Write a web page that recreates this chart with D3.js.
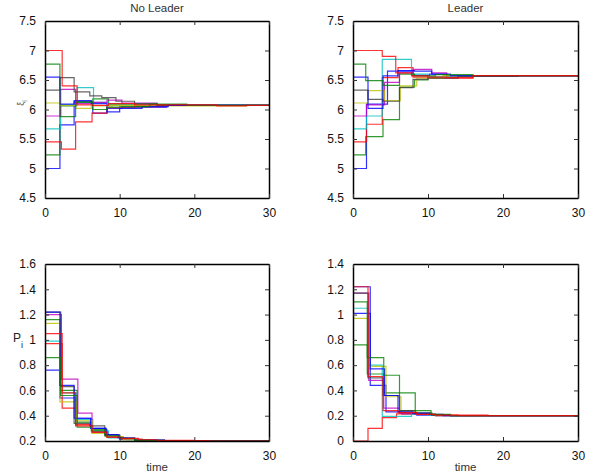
<!DOCTYPE html>
<html><head><meta charset="utf-8">
<script src="https://cdn.jsdelivr.net/npm/d3@7"></script>
<style>
body{margin:0;background:#fff;}
svg{display:block;font-family:"Liberation Sans",Arial,Helvetica,sans-serif;}
</style></head>
<body><svg id="c" width="595" height="474"></svg>
<script>
// agent colours (MATLAB-like colour order)
const agentColors = ["#0000ff","#008000","#ff0000","#00bfbf","#bf00bf","#bfbf00","#404040","#0000ff","#008000","#ff0000"];
const xTicks = [0,10,20,30];
const xiTicks = [4.5,5,5.5,6,6.5,7,7.5];
const pNoLeaderTicks = [0.2,0.4,0.6,0.8,1,1.2,1.4,1.6];
const pLeaderTicks = [0,0.2,0.4,0.6,0.8,1,1.2,1.4];
const titles = ["No Leader","Leader"];

// step series: [time, value] (value held until next time)
const xiNoLeader = [
 [[0,5.0],[2.0,5.74],[3.9,6.13],[6.4,5.94],[8.3,6.02],[10.3,6.04],[16.3,6.07]],
 [[0,5.23],[2.0,6.06],[4.2,6.14],[6.4,6.18],[8.5,6.08],[12,6.08],[19,6.07]],
 [[0,5.45],[2.2,5.33],[4.1,5.79],[6.3,5.94],[8.3,6.03],[12,6.05],[16,6.07]],
 [[0,5.67],[2.1,6.08],[4.3,6.37],[6.5,6.12],[8.5,6.10],[10.5,6.09],[14,6.08]],
 [[0,5.89],[2.1,6.34],[4.1,6.10],[6.3,6.12],[8.3,6.16],[10.3,6.11],[15,6.07]],
 [[0,6.11],[2.0,6.07],[4.1,6.02],[6.2,6.06],[9,6.07],[13,6.06],[27,6.07]],
 [[0,6.33],[2.0,6.54],[3.9,6.30],[6.0,6.23],[7.6,6.20],[9.5,6.14],[12,6.10],[15,6.07]],
 [[0,6.55],[2.0,6.09],[3.9,6.15],[6.2,6.10],[8.3,5.96],[10,6.02],[13,6.05],[16.5,6.07]],
 [[0,6.77],[2.0,5.88],[4.1,6.12],[6.4,6.00],[8.3,6.04],[10,6.05],[14,6.09],[19,6.07]],
 [[0,7.0],[2.3,6.40],[4.3,6.08],[6.3,6.07],[8.5,6.10],[12,6.08],[23,6.06],[27,6.07]]
];
const xiLeader = [
 [[0,5.0],[1.8,6.09],[4.6,6.65],[8.0,6.58],[10.2,6.60],[12.5,6.575]],
 [[0,5.23],[1.7,5.54],[4.0,5.83],[6.2,6.38],[8.2,6.50],[10,6.55],[14,6.575]],
 [[0,5.45],[1.8,5.75],[3.9,6.54],[6.0,6.71],[8.0,6.55],[10,6.53],[16,6.575]],
 [[0,5.67],[1.8,5.89],[3.9,6.85],[7.8,6.60],[10,6.55],[13,6.575]],
 [[0,5.89],[1.8,6.08],[4.2,6.46],[6.2,6.62],[8.0,6.68],[10.5,6.62],[12.5,6.575]],
 [[0,6.11],[2.0,6.32],[4.2,6.15],[6.3,6.40],[8.5,6.53],[12,6.575]],
 [[0,6.33],[2.0,6.17],[4.0,6.14],[6.2,6.37],[8.0,6.51],[10,6.53],[14,6.56],[22,6.575]],
 [[0,6.55],[2.0,6.02],[4.0,6.57],[6.0,6.66],[8.2,6.65],[10.5,6.60],[13,6.575]],
 [[0,6.77],[1.7,6.49],[4.0,6.41],[6.2,6.60],[8.2,6.57],[11,6.59],[16,6.575]],
 [[0,7.0],[3.9,6.90],[5.7,6.62],[7.8,6.57],[10,6.55],[12.5,6.54],[16,6.575]]
];
const pNoLeader = [
 [[0,0.76],[2.0,0.54],[4.1,0.38],[6.2,0.30],[8.1,0.24],[10.0,0.215],[12,0.205],[15,0.2]],
 [[0,1.16],[2.0,0.60],[4.3,0.35],[6.3,0.29],[8.3,0.23],[10.3,0.21],[13,0.202],[17,0.2]],
 [[0,0.97],[2.3,0.46],[4.1,0.33],[6.3,0.27],[8.3,0.23],[10.5,0.215],[13,0.205],[20,0.2]],
 [[0,0.99],[2.0,0.58],[4.2,0.37],[6.4,0.28],[8.5,0.225],[11,0.21],[14,0.2]],
 [[0,1.20],[2.2,0.69],[4.4,0.42],[6.3,0.27],[8.4,0.23],[10.3,0.215],[12,0.205],[16,0.2]],
 [[0,1.13],[2.0,0.51],[4.2,0.36],[6.3,0.26],[8.3,0.235],[10.5,0.21],[14,0.2]],
 [[0,1.22],[2.1,0.63],[3.9,0.34],[6.0,0.32],[8.0,0.25],[10.0,0.22],[12,0.205],[16,0.2]],
 [[0,1.22],[2.0,0.64],[3.9,0.38],[6.1,0.30],[8.2,0.25],[9.8,0.225],[12,0.208],[16,0.2]],
 [[0,0.86],[2.1,0.56],[4.3,0.31],[6.2,0.28],[8.0,0.24],[10,0.22],[12,0.205],[16,0.2]],
 [[0,1.05],[2.3,0.58],[4.1,0.32],[6.3,0.27],[8.3,0.23],[10,0.22],[12.5,0.21],[15,0.203],[22,0.2]]
];
const pLeader = [
 [[0,1.01],[2.3,0.44],[4.4,0.23],[6.5,0.215],[8.5,0.205],[11,0.2]],
 [[0,0.76],[1.9,0.53],[4.1,0.38],[6.2,0.24],[8.3,0.22],[10.5,0.205],[13,0.2]],
 [[0,0.0],[2.0,0.10],[3.9,0.185],[5.8,0.215],[8,0.21],[10.5,0.205],[18,0.2]],
 [[0,1.05],[2.0,0.60],[3.9,0.195],[7.8,0.21],[10,0.205],[13,0.2]],
 [[0,1.17],[2.1,0.48],[4.1,0.26],[6.2,0.22],[8.3,0.21],[11,0.2]],
 [[0,0.97],[2.0,0.59],[4.4,0.35],[6.4,0.23],[8.5,0.215],[11,0.2]],
 [[0,1.17],[2.0,0.50],[4.0,0.36],[6.2,0.24],[8.3,0.22],[10.5,0.205],[13,0.2]],
 [[0,1.22],[2.3,0.57],[4.2,0.36],[6.0,0.23],[8.0,0.22],[10.2,0.21],[12,0.2]],
 [[0,1.10],[1.9,0.66],[4.1,0.52],[6.2,0.38],[8.3,0.24],[10.4,0.21],[13,0.2]],
 [[0,1.22],[2.0,0.51],[4.0,0.24],[6.0,0.225],[8.5,0.21],[11,0.205],[14,0.2]]
];

const svg = d3.select("#c");
const fmt = v => String(+v.toFixed(2));

function panel(opt){
  const {x0,x1,y0,y1,data,yDomain,yTicks,title,xlabel} = opt;
  const x = d3.scaleLinear().domain([0,30]).range([x0,x1]);
  const y = d3.scaleLinear().domain(yDomain).range([y1,y0]);
  const g = svg.append("g");
  const line = d3.line().x(d=>x(d[0])).y(d=>y(d[1])).curve(d3.curveStepAfter);
  data.forEach((s,i)=>{
    const pts = s.concat([[30, s[s.length-1][1]]]);
    g.append("path").attr("d", line(pts)).attr("fill","none")
     .attr("stroke", agentColors[i]).attr("stroke-width",1.2).attr("stroke-opacity",0.8);
  });
  // axes (MATLAB style box, inward ticks)
  const tl = 4;
  g.append("g").attr("transform",`translate(${x0},0)`)
    .call(d3.axisLeft(y).tickValues(yTicks).tickSizeInner(-tl).tickSizeOuter(0).tickPadding(5+tl).tickFormat(fmt));
  g.append("g").attr("transform",`translate(${x1},0)`)
    .call(d3.axisRight(y).tickValues(yTicks).tickSizeInner(-tl).tickSizeOuter(0).tickFormat(""));
  g.append("g").attr("transform",`translate(0,${y1})`)
    .call(d3.axisBottom(x).tickValues(xTicks).tickSizeInner(-tl).tickSizeOuter(0).tickPadding(6+tl).tickFormat(d3.format("d")));
  g.append("g").attr("transform",`translate(0,${y0})`)
    .call(d3.axisTop(x).tickValues(xTicks).tickSizeInner(-tl).tickSizeOuter(0).tickFormat(""));
  g.selectAll(".domain").attr("stroke","#000").attr("stroke-width",1.5);
  g.selectAll(".tick line").attr("stroke","#333").attr("stroke-width",1);
  g.selectAll(".tick text").attr("font-size",12).attr("fill","#111").attr("font-family","Liberation Sans, Arial, sans-serif");
  if(title) g.append("text").attr("x",(x0+x1)/2).attr("y",y0-9).attr("text-anchor","middle")
     .attr("font-size",11.5).attr("fill","#333").text(title);
  if(xlabel) g.append("text").attr("x",(x0+x1)/2).attr("y",y1+30).attr("text-anchor","middle")
     .attr("font-size",11.5).attr("fill","#333").text(xlabel);
}

panel({x0:45,x1:269,y0:21,y1:198,data:xiNoLeader,yDomain:[4.5,7.5],yTicks:xiTicks,title:titles[0]});
panel({x0:353,x1:578,y0:21,y1:198,data:xiLeader,yDomain:[4.5,7.5],yTicks:xiTicks,title:titles[1]});
panel({x0:45,x1:269,y0:264,y1:441,data:pNoLeader,yDomain:[0.2,1.6],yTicks:pNoLeaderTicks,xlabel:"time"});
panel({x0:353,x1:578,y0:264,y1:441,data:pLeader,yDomain:[0,1.4],yTicks:pLeaderTicks,xlabel:"time"});

// y labels
const xl = svg.append("text").attr("transform","translate(24,103) rotate(-90)")
  .attr("text-anchor","middle").attr("font-size",9).attr("fill","#555");
xl.append("tspan").text("ξ");
xl.append("tspan").attr("font-size",7).attr("dy",3).text("i");
const pl = svg.append("text").attr("x",13).attr("y",342).attr("font-size",12).attr("fill","#222");
pl.append("tspan").text("P");
pl.append("tspan").attr("font-size",9).attr("dy",6).text("i");
</script></body></html>
